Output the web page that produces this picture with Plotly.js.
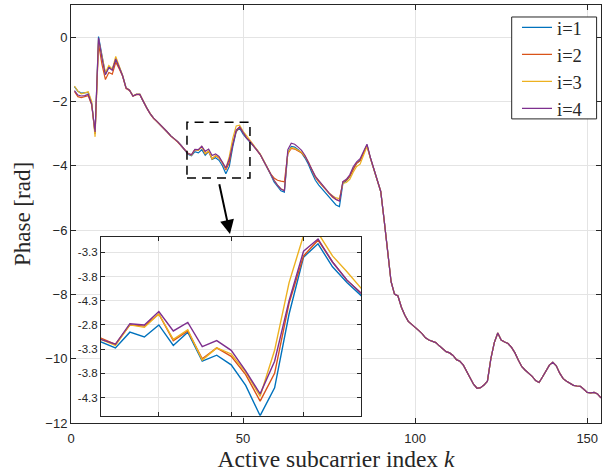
<!DOCTYPE html>
<html>
<head>
<meta charset="utf-8">
<script src="https://cdn.plot.ly/plotly-3.0.1.min.js"></script>
<style>html,body{margin:0;padding:0;background:#fff}#chart{width:610px;height:476px}</style>
</head>
<body>
<div id="chart"></div>
<script>
// Subcarrier indices k = 1..154
const kIndex = Array.from({length: 154}, (_, i) => i + 1);

// Series values, k = 1..90 (where the four curves differ)
const head_i1 = [-1.54,-1.68,-1.74,-1.74,-1.72,-2.05,-3.00,0.02,-0.62,-1.15,
  -0.92,-1.00,-0.70,-0.92,-1.20,-1.58,-1.65,-1.83,-1.78,-1.78,
  -2.00,-2.20,-2.38,-2.52,-2.62,-2.72,-2.82,-2.95,-3.07,-3.15,
  -3.25,-3.37,-3.50,-3.64,-3.69,-3.56,-3.60,-3.50,-3.67,-3.56,
  -3.80,-3.75,-3.83,-4.00,-4.25,-4.02,-3.41,-2.94,-2.83,-3.02,
  -3.15,-3.26,-3.38,-3.50,-3.65,-3.85,-4.05,-4.27,-4.50,-4.65,
  -4.78,-4.82,-3.60,-3.40,-3.42,-3.50,-3.60,-3.76,-3.96,-4.22,
  -4.45,-4.60,-4.72,-4.84,-4.95,-5.08,-5.22,-5.27,-4.55,-4.47,
  -4.33,-4.10,-3.92,-3.83,-3.58,-3.35,-3.76,-4.12,-4.46,-4.80];
const head_i2 = [-1.69,-1.85,-1.88,-1.85,-1.82,-2.10,-3.00,-0.20,-0.85,-1.32,
  -1.10,-1.15,-0.78,-0.98,-1.22,-1.60,-1.66,-1.84,-1.79,-1.79,
  -2.01,-2.21,-2.39,-2.53,-2.63,-2.73,-2.83,-2.96,-3.08,-3.16,
  -3.26,-3.38,-3.50,-3.61,-3.66,-3.50,-3.51,-3.41,-3.63,-3.55,
  -3.78,-3.69,-3.76,-3.91,-4.13,-3.90,-3.32,-2.93,-2.80,-2.98,
  -3.13,-3.24,-3.37,-3.50,-3.66,-3.86,-4.06,-4.25,-4.38,-4.45,
  -4.48,-4.50,-3.62,-3.46,-3.48,-3.53,-3.60,-3.72,-3.90,-4.14,
  -4.36,-4.50,-4.62,-4.75,-4.88,-4.98,-5.05,-5.08,-4.50,-4.45,
  -4.32,-4.10,-3.92,-3.85,-3.60,-3.37,-3.76,-4.11,-4.45,-4.80];
const head_i3 = [-1.52,-1.68,-1.76,-1.74,-1.70,-2.00,-3.10,-0.08,-0.60,-1.10,
  -0.88,-1.00,-0.60,-0.88,-1.19,-1.57,-1.64,-1.82,-1.77,-1.77,
  -1.99,-2.19,-2.37,-2.52,-2.62,-2.72,-2.82,-2.95,-3.07,-3.15,
  -3.25,-3.37,-3.50,-3.62,-3.67,-3.50,-3.52,-3.41,-3.62,-3.54,
  -3.79,-3.69,-3.74,-3.89,-4.09,-3.71,-3.15,-2.76,-2.74,-2.93,
  -3.06,-3.20,-3.33,-3.47,-3.64,-3.84,-4.04,-4.24,-4.45,-4.60,
  -4.72,-4.76,-3.60,-3.44,-3.46,-3.52,-3.58,-3.70,-3.88,-4.12,
  -4.33,-4.47,-4.60,-4.72,-4.85,-4.93,-5.00,-5.02,-4.55,-4.52,
  -4.42,-4.20,-4.02,-3.95,-3.65,-3.40,-3.77,-4.12,-4.45,-4.80];
const head_i4 = [-1.66,-1.80,-1.83,-1.82,-1.78,-2.08,-2.95,-0.02,-0.65,-1.17,
  -0.95,-1.03,-0.68,-0.93,-1.20,-1.58,-1.65,-1.83,-1.78,-1.78,
  -2.00,-2.20,-2.38,-2.52,-2.62,-2.72,-2.82,-2.95,-3.07,-3.15,
  -3.25,-3.37,-3.50,-3.62,-3.66,-3.49,-3.50,-3.39,-3.55,-3.48,
  -3.68,-3.63,-3.71,-3.88,-4.07,-3.80,-3.30,-2.89,-2.79,-2.98,
  -3.13,-3.24,-3.37,-3.49,-3.65,-3.85,-4.05,-4.26,-4.45,-4.60,
  -4.72,-4.78,-3.50,-3.30,-3.33,-3.42,-3.52,-3.68,-3.88,-4.12,
  -4.33,-4.47,-4.60,-4.72,-4.85,-4.95,-5.05,-5.10,-4.49,-4.42,
  -4.28,-4.03,-3.88,-3.78,-3.55,-3.33,-3.75,-4.10,-4.45,-4.80];

// k = 91..154, where the four curves coincide
const tail_all = [-5.70,-6.75,-7.60,-7.99,-8.05,-8.40,-8.65,-8.84,-8.93,-9.00,
  -9.12,-9.22,-9.35,-9.42,-9.45,-9.50,-9.60,-9.70,-9.78,-9.82,
  -9.90,-10.03,-10.08,-10.20,-10.40,-10.60,-10.80,-10.92,-10.90,-10.82,
  -10.70,-10.00,-9.50,-9.20,-9.42,-9.48,-9.53,-9.65,-9.82,-10.05,
  -10.25,-10.36,-10.45,-10.55,-10.68,-10.74,-10.57,-10.38,-10.20,-10.11,
  -10.22,-10.45,-10.62,-10.70,-10.77,-10.83,-10.85,-10.86,-10.95,-11.05,
  -11.06,-11.05,-11.10,-11.22];

const seriesNames = ['i=1','i=2','i=3','i=4'];
const seriesColors = ['#0072BD','#D95319','#EDB120','#7E2F8E'];
const seriesValues = [head_i1, head_i2, head_i3, head_i4].map(h => h.concat(tail_all));

// Inset tick labels (as printed in the figure)
const insetTickVals = [-2.90,-3.10,-3.30,-3.50,-3.70,-3.90,-4.10];
const insetTickText = ['-3.3','-3.8','-4.3','-2.8','-3.3','-3.8','-4.3'];

const traces = [];
seriesValues.forEach((v, i) => {
  traces.push({x: kIndex, y: v, type: 'scatter', mode: 'lines', name: seriesNames[i],
    line: {color: seriesColors[i], width: 1.2}, xaxis: 'x', yaxis: 'y'});
});
seriesValues.forEach((v, i) => {
  traces.push({x: kIndex, y: v, type: 'scatter', mode: 'lines', name: seriesNames[i],
    showlegend: false, line: {color: seriesColors[i], width: 1.4}, xaxis: 'x2', yaxis: 'y2'});
});

const axCol = '#262626';
const gridCol = '#e4e4e4';
const tickFont = {family: 'Liberation Sans, Arial, sans-serif', size: 13, color: axCol};
const serif = 'Liberation Serif, Times New Roman, serif';

const layout = {
  width: 610, height: 476,
  margin: {l: 71, r: 9, t: 5, b: 53, autoexpand: false},
  paper_bgcolor: '#fff', plot_bgcolor: '#fff',
  showlegend: true,
  xaxis: {domain: [0, 1], range: [0, 154], tickvals: [0, 50, 100, 150],
    ticks: 'inside', ticklen: 5, tickcolor: axCol, mirror: 'ticks', showline: true,
    linecolor: axCol, linewidth: 1, showgrid: true, gridcolor: gridCol, zeroline: false,
    tickfont: tickFont, ticklabelstandoff: 3,
    title: {text: 'Active subcarrier index <i>k</i>', font: {family: serif, size: 23.5, color: axCol}, standoff: 4}},
  yaxis: {domain: [0, 1], range: [-12, 1], tickvals: [0, -2, -4, -6, -8, -10, -12],
    ticks: 'inside', ticklen: 5, tickcolor: axCol, mirror: 'ticks', showline: true,
    linecolor: axCol, linewidth: 1, showgrid: true, gridcolor: gridCol, zeroline: false,
    tickfont: tickFont,
    title: {text: 'Phase [rad]', font: {family: serif, size: 23, color: axCol}, standoff: 8}},
  xaxis2: {anchor: 'y2', domain: [0.0565, 0.548], range: [34, 52], tickvals: [38, 43, 48],
    showticklabels: false, ticks: 'inside', ticklen: 4, tickcolor: axCol, mirror: 'ticks',
    showline: true, linecolor: axCol, linewidth: 1, showgrid: true, gridcolor: gridCol, zeroline: false},
  yaxis2: {anchor: 'x2', domain: [0.0175, 0.446], range: [-4.25, -2.77],
    tickvals: insetTickVals, ticktext: insetTickText,
    ticks: 'inside', ticklen: 4, tickcolor: axCol, mirror: 'ticks',
    showline: true, linecolor: axCol, linewidth: 1, showgrid: true, gridcolor: gridCol, zeroline: false,
    tickfont: {family: 'Liberation Sans, Arial, sans-serif', size: 11.5, color: axCol}},
  legend: {x: 0.8415, xanchor: 'left', y: 0.991, yanchor: 'top', bgcolor: 'rgba(0,0,0,0)',
    borderwidth: 0, font: {family: serif, size: 18.5, color: axCol}},
  shapes: [
    {type: 'rect', xref: 'x2 domain', yref: 'y2 domain', x0: 0, x1: 1, y0: 0, y1: 1,
     fillcolor: '#fff', line: {width: 0}, layer: 'below'},
    {type: 'rect', xref: 'x', yref: 'y', x0: 33.7, x1: 52, y0: -4.38, y1: -2.65,
     line: {color: '#000', width: 1.5, dash: '9px,6px'}, fillcolor: 'rgba(0,0,0,0)', layer: 'above'},
    // legend frame
    {type: 'rect', xref: 'paper', yref: 'paper', x0: 0.8315, x1: 0.9917, y0: 0.7275, y1: 0.9713,
     line: {color: axCol, width: 1}, fillcolor: '#fff', layer: 'above'}
  ],
  annotations: [
    {xref: 'x', yref: 'y', axref: 'x', ayref: 'y', x: 46.2, y: -6.12, ax: 43.0, ay: -4.53,
     text: '', showarrow: true, arrowhead: 2, arrowsize: 1.4, arrowwidth: 2, arrowcolor: '#000'}
  ]
};

Plotly.newPlot('chart', traces, layout, {staticPlot: true, displayModeBar: false});
</script>
</body>
</html>
